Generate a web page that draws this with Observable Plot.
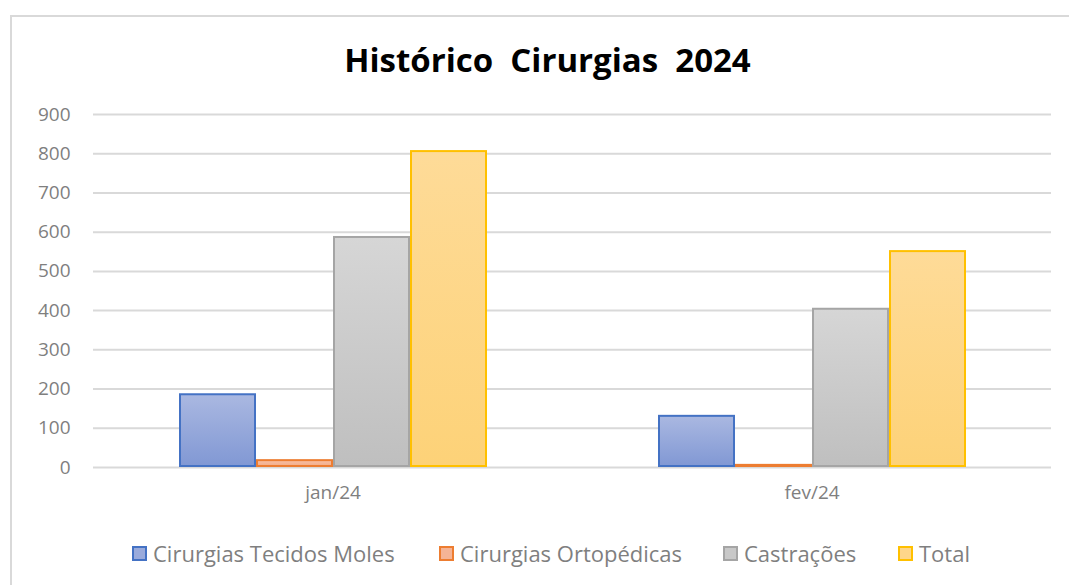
<!DOCTYPE html>
<html>
<head>
<meta charset="utf-8">
<script src="https://cdn.jsdelivr.net/npm/d3@7"></script>
<script src="https://cdn.jsdelivr.net/npm/@observablehq/plot@0.6"></script>
<style>
  html, body { margin: 0; padding: 0; background: #fff; }
  body { width: 1069px; height: 585px; position: relative; overflow: hidden; font-family: "Open Sans", sans-serif; }
  #frame { position: absolute; left: 10px; top: 15px; width: 1070px; height: 600px; border: 2px solid #d9d9d9; box-sizing: border-box; }
  #title { position: absolute; left: 0; width: 1095px; top: 43px; line-height: 1; text-align: center; font-weight: bold; font-size: 33px; color: #000; white-space: pre; }
  #chart { position: absolute; left: 0; top: 0; }
  #legend { position: absolute; top: 538px; left: 0; width: 1069px; font-size: 22px; line-height: 30px; color: #7f7f7f; }
  .item { position: absolute; display: flex; align-items: center; white-space: nowrap; }
  .sw { width: 11px; height: 11px; border: 2px solid; margin-right: 6px; }
</style>
</head>
<body>
<svg width="0" height="0" style="position:absolute">
  <defs>
    <linearGradient id="g0" x1="0" y1="0" x2="0" y2="1"><stop offset="0" stop-color="#aab8e1"/><stop offset="1" stop-color="#8198d4"/></linearGradient>
    <linearGradient id="g1" x1="0" y1="0" x2="0" y2="1"><stop offset="0" stop-color="#f7c0a6"/><stop offset="1" stop-color="#f4ac88"/></linearGradient>
    <linearGradient id="g2" x1="0" y1="0" x2="0" y2="1"><stop offset="0" stop-color="#d6d6d6"/><stop offset="1" stop-color="#bfbfbf"/></linearGradient>
    <linearGradient id="g3" x1="0" y1="0" x2="0" y2="1"><stop offset="0" stop-color="#fedb98"/><stop offset="1" stop-color="#fdd278"/></linearGradient>
  </defs>
</svg>
<div id="frame"></div>
<div id="title">Histórico  Cirurgias  2024</div>
<div id="chart"></div>
<div id="legend"></div>
<script>
const months = ["jan/24", "fev/24"];
const series = ["Cirurgias Tecidos Moles", "Cirurgias Ortopédicas", "Castrações", "Total"];
const tecidosMoles = [188, 133];
const ortopedicas = [20, 8];
const castracoes = [589, 406];
const total = [808, 553];
const yTicks = [0, 100, 200, 300, 400, 500, 600, 700, 800, 900];
const strokes = ["#4472c4", "#ed7d31", "#a5a5a5", "#ffc000"];
const fills = ["url(#g0)", "url(#g1)", "url(#g2)", "url(#g3)"];
const swatchFills = ["#9aabdc", "#f5b496", "#c8c8c8", "#fed68a"];

const valuesBySeries = [tecidosMoles, ortopedicas, castracoes, total];
const data = [];
series.forEach((s, i) => months.forEach((m, j) => data.push({month: m, series: s, value: valuesBySeries[i][j]})));

const plot = Plot.plot({
  width: 1069,
  height: 520,
  marginLeft: 93,
  marginRight: 18,
  marginTop: 114,
  marginBottom: 53,
  style: {fontFamily: "Open Sans, sans-serif", background: "transparent"},
  fx: {domain: months, paddingInner: 0, paddingOuter: 0, label: null},
  x: {domain: series, paddingInner: 0, paddingOuter: 1.077, axis: null},
  y: {domain: [0, 900], ticks: yTicks, label: null},
  marks: [
    Plot.gridY(yTicks, {stroke: "#d9d9d9", strokeOpacity: 1, strokeWidth: 2}),
    Plot.axisY(yTicks, {tickSize: 0, tickPadding: 23, fontSize: 19, fill: "#7f7f7f", color: "#7f7f7f"}),
    Plot.axisFx({anchor: "bottom", tickSize: 0, tickPadding: 18, fontSize: 19, fill: "#7f7f7f", color: "#7f7f7f", label: null}),
    ...series.map((s, i) => Plot.barY(data.filter(d => d.series === s), {
      fx: "month", x: "series", y: "value",
      fill: fills[i], stroke: strokes[i], strokeWidth: 2, inset: 1
    }))
  ]
});
document.getElementById("chart").appendChild(plot);

const legendX = [132, 439, 723, 898];
const legend = document.getElementById("legend");
series.forEach((s, i) => {
  const it = document.createElement("div");
  it.className = "item";
  it.style.left = legendX[i] + "px";
  const sw = document.createElement("div");
  sw.className = "sw";
  sw.style.borderColor = strokes[i];
  sw.style.background = swatchFills[i];
  const t = document.createElement("span");
  t.textContent = s;
  it.appendChild(sw); it.appendChild(t);
  legend.appendChild(it);
});
</script>
</body>
</html>
